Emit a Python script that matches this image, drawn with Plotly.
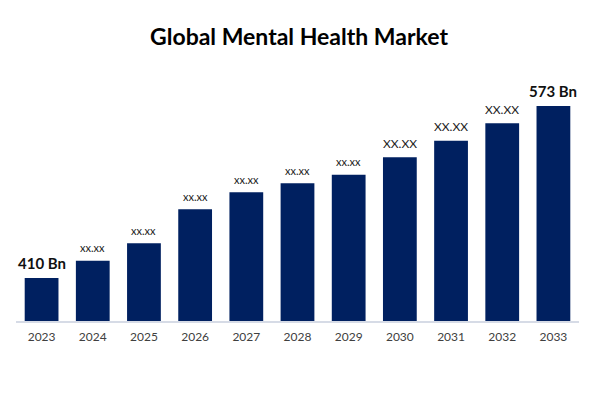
import plotly.graph_objects as go

years = ["2023", "2024", "2025", "2026", "2027", "2028", "2029", "2030", "2031", "2032", "2033"]
heights = [43, 60.3, 77.7, 111.7, 128.7, 137.7, 146.3, 163.7, 180.3, 197.7, 215]
labels = ["410 Bn", "xx.xx", "xx.xx", "xx.xx", "xx.xx", "xx.xx", "xx.xx", "XX.XX", "XX.XX", "XX.XX", "573 Bn"]

FONT = "Lato, 'Open Sans', sans-serif"
NAVY = "#002060"

fig = go.Figure(go.Bar(x=years, y=heights, marker=dict(color=NAVY, line=dict(width=0)), width=0.66))

for i, (h, lab) in enumerate(zip(heights, labels)):
    if "Bn" in lab:
        f = dict(family=FONT, size=15, color="#111111", weight="bold")
        shift = 15
    elif lab.isupper():
        f = dict(family=FONT, size=12, color="#222222")
        shift = 14
    else:
        f = dict(family=FONT, size=11, color="#222222")
        shift = 13
    fig.add_annotation(x=i, y=h, text=lab, showarrow=False, yanchor="middle", yshift=shift, font=f)

fig.update_layout(
    width=599, height=399,
    margin=dict(l=8, r=28, t=73, b=86),
    paper_bgcolor="white", plot_bgcolor="white",
    title=dict(text="<b>Global Mental Health Market</b>", x=(299 - 8) / 599, xanchor="center",
               y=1 - 29 / 399, yanchor="middle",
               font=dict(family=FONT, size=23, color="#000000")),
    xaxis=dict(type="category", range=[-0.5, len(years) - 0.5], showgrid=False, showline=True,
               linecolor="#d6dbe6", linewidth=2,
               ticks="", tickfont=dict(family=FONT, size=12, color="#404040"), ticklabelstandoff=4),
    yaxis=dict(range=[0, 240], visible=False, showgrid=False),
    showlegend=False,
)

fig.write_html("out.html")
